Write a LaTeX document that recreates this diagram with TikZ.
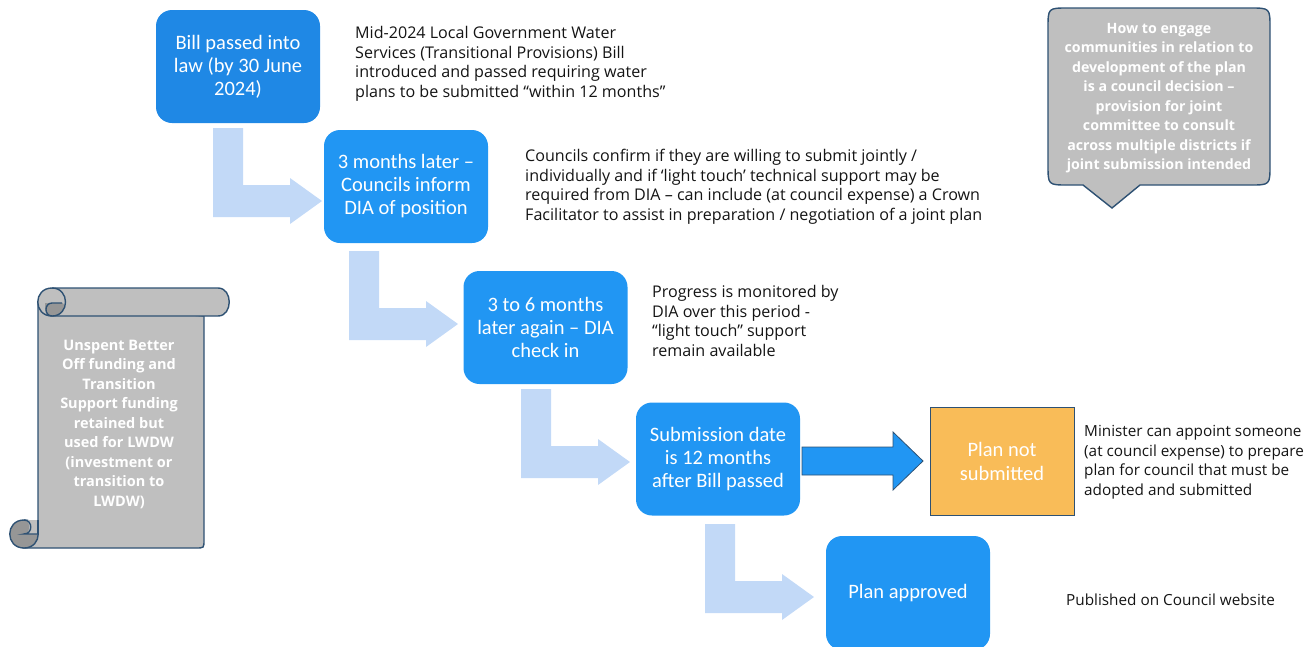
\documentclass[tikz,border=0pt]{standalone}
\usepackage{fontspec}
\setmainfont{Carlito}
\newfontfamily\sidefont{Open Sans}
\definecolor{boxA}{RGB}{31,136,229}
\definecolor{boxB}{RGB}{33,150,243}
\definecolor{lightarr}{RGB}{194,217,247}
\definecolor{grayfill}{RGB}{191,191,191}
\definecolor{darkgray}{RGB}{150,150,150}
\definecolor{navy}{RGB}{46,81,115}
\definecolor{orangefill}{RGB}{249,188,88}
\definecolor{sidetext}{RGB}{20,20,20}
\tikzset{
  bluebox/.style={rounded corners=16pt, fill=boxB, text=white, minimum width=164pt, minimum height=113pt, align=center, inner sep=2pt, font=\fontsize{20.5}{23}\selectfont},
  sidenote/.style={anchor=west, align=left, inner sep=0pt, text=sidetext, font=\sidefont\fontsize{16.1}{19.5}\selectfont},
  smallnote/.style={sidenote, font=\sidefont\fontsize{15.3}{19.5}\selectfont},
  graynote/.style={align=center, inner sep=0pt, text=white, font=\sidefont\bfseries\fontsize{14.2}{19.5}\selectfont},
  lightarrow/.style={fill=lightarr},
  outl/.style={draw=navy, line width=1.4pt, fill=grayfill}
}
\newcommand\bentarrow[2]{%
  \fill[lightarrow] (#1,#2) -- ++(30,0) -- ++(0,57) -- ++(47,0) -- ++(0,-7) -- ++(32,23) -- ++(-32,23) -- ++(0,-7) -- ++(-77,0) -- cycle;}
\begin{document}
\begin{tikzpicture}[x=1pt, y=-1pt]
\useasboundingbox (0,0) rectangle (1308,646);
% bent arrows
\bentarrow{213}{128}
\bentarrow{349}{251}
\bentarrow{521}{389}
\bentarrow{705}{524}
% boxes
\node[bluebox, fill=boxA] (b1) at (238,66.5) {Bill passed into\\law (by 30 June\\2024)};
\node[bluebox] (b2) at (406,186.5) {3 months later –\\Councils inform\\DIA of position};
\node[bluebox] (b3) at (545.5,327.5) {3 to 6 months\\later again – DIA\\check in};
\node[bluebox] (b4) at (718,459) {Submission date\\is 12 months\\after Bill passed};
\node[bluebox, minimum height=114pt] (b5) at (908,593) {Plan approved};
\node[draw=navy, line width=1pt, fill=orangefill, text=white, minimum width=144pt, minimum height=108pt, align=center, font=\fontsize{20.5}{24}\selectfont] (ns) at (1002,461) {Plan not\\submitted};
% big arrow
\draw[fill=boxB, draw=navy, line width=0.8pt] (802,447) -- (893,447) -- (893,432) -- (923,461) -- (893,490) -- (893,475) -- (802,475) -- cycle;
% side notes
\node[sidenote] (t1) at (355,64) {Mid-2024 Local Government Water\\Services (Transitional Provisions) Bill\\introduced and passed requiring water\\plans to be submitted “within 12 months”};
\node[sidenote] (t2) at (525,187) {Councils confirm if they are willing to submit jointly /\\individually and if ‘light touch’ technical support may be\\required from DIA – can include (at council expense) a Crown\\Facilitator to assist in preparation / negotiation of a joint plan};
\node[sidenote] (t3) at (652,321) {Progress is monitored by\\DIA over this period -\\“light touch” support\\remain available};
\node[smallnote] (t4) at (1084,462) {Minister can appoint someone\\(at council expense) to prepare\\plan for council that must be\\adopted and submitted};
\node[smallnote] (t5) at (1066,600) {Published on Council website};
% callout
\draw[outl] (1112,208) -- (1083,185) -- (1068,185) .. controls (1048,185) .. (1048,165) -- (1048,28) .. controls (1048,8) .. (1068,8) -- (1250,8) .. controls (1270,8) .. (1270,28) -- (1270,165) .. controls (1270,185) .. (1250,185) -- (1140,185) -- cycle;
\node[graynote] (cn) at (1159,98) {How to engage\\communities in relation to\\development of the plan\\is a council decision –\\provision for joint\\committee to consult\\across multiple districts if\\joint submission intended};
% scroll
\draw[outl] (38,302) -- (38,534) -- (24,548) -- (196,548) .. controls (204,548) .. (204,540) -- (204,316) -- cycle;
\draw[outl] (52,288) -- (218,288) .. controls (233,288) and (233,316) .. (218,316) -- (52,316) .. controls (33,316) and (33,288) .. (52,288) -- cycle;
\fill[darkgray] (45,303) -- (62,303) .. controls (66,303) and (66,316) .. (52,316) .. controls (45,316) and (45,309) .. (45,303) -- cycle;
\draw[navy, line width=1.4pt] (52,288) .. controls (70,288) and (70,316) .. (52,316);
\draw[navy, line width=1.4pt] (52,316) .. controls (44,316) and (44,303) .. (52,303) -- (62,303);
\draw[outl, fill=darkgray] (24,520) .. controls (5,520) and (5,548) .. (24,548) .. controls (43,548) and (43,520) .. (24,520) -- cycle;
\fill[grayfill] (24,520) -- (38,520) -- (38,534) -- (24,534) .. controls (31,534) and (31,520) .. (24,520) -- cycle;
\draw[navy, line width=1.4pt] (24,520) .. controls (33,520) and (33,534) .. (24,534) -- (38,534);
\draw[navy, line width=1.4pt] (38,534) -- (38,520);
\node[graynote, font=\sidefont\bfseries\fontsize{14.5}{19.5}\selectfont] (sn) at (119,424) {Unspent Better\\Off funding and\\Transition\\Support funding\\retained but\\used for LWDW\\(investment or\\transition to\\LWDW)};
\end{tikzpicture}
\end{document}
